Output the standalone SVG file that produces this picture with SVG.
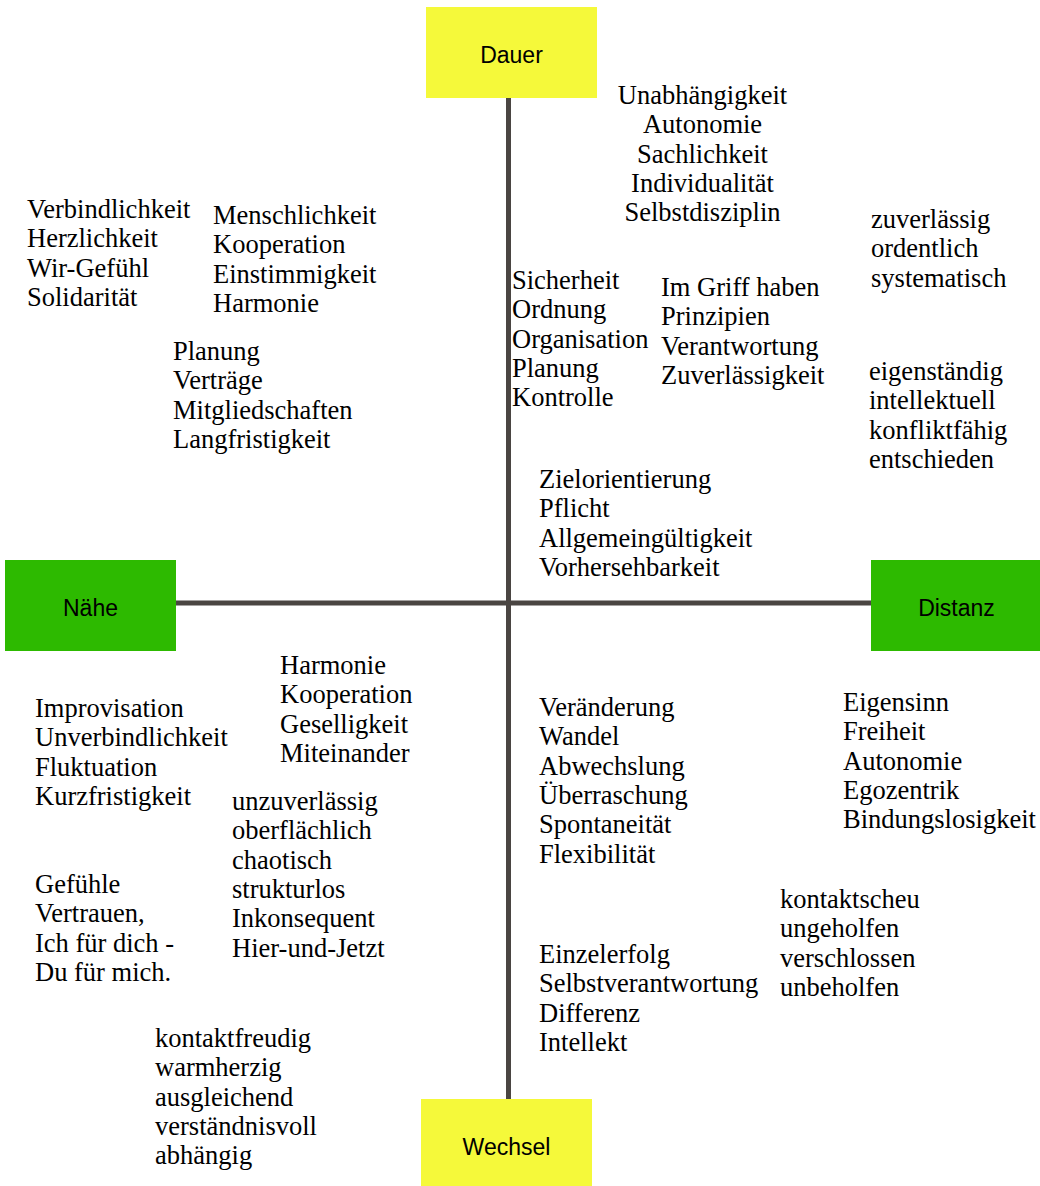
<svg xmlns="http://www.w3.org/2000/svg" width="1040" height="1186" viewBox="0 0 1040 1186">
<style>
.bg{fill:#ffffff}
.axis{stroke:#4a4542;stroke-width:5;fill:none}
.yel{fill:#f5f93a}
.grn{fill:#2dba00}
.lbl{font-family:"Liberation Sans",Arial,Helvetica,sans-serif;font-size:23px;fill:#000;text-anchor:middle}
.t{font-family:"Liberation Serif","Times New Roman",Times,serif;font-size:26.5px;fill:#000}
.c{text-anchor:middle}
</style>
<rect class="bg" x="0" y="0" width="1040" height="1186"/>
<g id="connectors">
<line class="axis" x1="508.5" y1="98" x2="508.5" y2="1099"/>
<line class="axis" x1="176" y1="603" x2="871" y2="603"/>
</g>
<g id="node-dauer"><rect class="yel" x="426" y="7" width="171" height="91"/><text class="lbl" x="511.5" y="63">Dauer</text></g>
<g id="node-wechsel"><rect class="yel" x="421" y="1099" width="171" height="91"/><text class="lbl" x="506.5" y="1155">Wechsel</text></g>
<g id="node-naehe"><rect class="grn" x="5" y="560" width="171" height="91"/><text class="lbl" x="90.5" y="616">Nähe</text></g>
<g id="node-distanz"><rect class="grn" x="871" y="560" width="171" height="91"/><text class="lbl" x="956.5" y="616">Distanz</text></g>

<g id="txt-unabhaengigkeit" class="t c">
<text x="702.5" y="104">Unabhängigkeit</text>
<text x="702.5" y="133.3">Autonomie</text>
<text x="702.5" y="162.6">Sachlichkeit</text>
<text x="702.5" y="191.9">Individualität</text>
<text x="702.5" y="221.2">Selbstdisziplin</text>
</g>
<g id="txt-verbindlichkeit" class="t">
<text x="27" y="218">Verbindlichkeit</text>
<text x="27" y="247.3">Herzlichkeit</text>
<text x="27" y="276.6">Wir-Gefühl</text>
<text x="27" y="305.9">Solidarität</text>
</g>
<g id="txt-menschlichkeit" class="t">
<text x="213" y="224">Menschlichkeit</text>
<text x="213" y="253.3">Kooperation</text>
<text x="213" y="282.6">Einstimmigkeit</text>
<text x="213" y="311.9">Harmonie</text>
</g>
<g id="txt-planung" class="t">
<text x="173" y="360">Planung</text>
<text x="173" y="389.3">Verträge</text>
<text x="173" y="418.6">Mitgliedschaften</text>
<text x="173" y="447.9">Langfristigkeit</text>
</g>
<g id="txt-zuverlaessig" class="t">
<text x="871" y="228">zuverlässig</text>
<text x="871" y="257.3">ordentlich</text>
<text x="871" y="286.6">systematisch</text>
</g>
<g id="txt-sicherheit" class="t">
<text x="512" y="289">Sicherheit</text>
<text x="512" y="318.3">Ordnung</text>
<text x="512" y="347.6">Organisation</text>
<text x="512" y="376.9">Planung</text>
<text x="512" y="406.2">Kontrolle</text>
</g>
<g id="txt-imgriff" class="t">
<text x="661" y="296">Im Griff haben</text>
<text x="661" y="325.3">Prinzipien</text>
<text x="661" y="354.6">Verantwortung</text>
<text x="661" y="383.9">Zuverlässigkeit</text>
</g>
<g id="txt-eigenstaendig" class="t">
<text x="869" y="380">eigenständig</text>
<text x="869" y="409.3">intellektuell</text>
<text x="869" y="438.6">konfliktfähig</text>
<text x="869" y="467.9">entschieden</text>
</g>
<g id="txt-zielorientierung" class="t">
<text x="539" y="488">Zielorientierung</text>
<text x="539" y="517.3">Pflicht</text>
<text x="539" y="546.6">Allgemeingültigkeit</text>
<text x="539" y="575.9">Vorhersehbarkeit</text>
</g>
<g id="txt-harmonie" class="t">
<text x="280" y="674">Harmonie</text>
<text x="280" y="703.3">Kooperation</text>
<text x="280" y="732.6">Geselligkeit</text>
<text x="280" y="761.9">Miteinander</text>
</g>
<g id="txt-improvisation" class="t">
<text x="35" y="717">Improvisation</text>
<text x="35" y="746.3">Unverbindlichkeit</text>
<text x="35" y="775.6">Fluktuation</text>
<text x="35" y="804.9">Kurzfristigkeit</text>
</g>
<g id="txt-unzuverlaessig" class="t">
<text x="232" y="810">unzuverlässig</text>
<text x="232" y="839.3">oberflächlich</text>
<text x="232" y="868.6">chaotisch</text>
<text x="232" y="897.9">strukturlos</text>
<text x="232" y="927.2">Inkonsequent</text>
<text x="232" y="956.5">Hier-und-Jetzt</text>
</g>
<g id="txt-gefuehle" class="t">
<text x="35" y="893">Gefühle</text>
<text x="35" y="922.3">Vertrauen,</text>
<text x="35" y="951.6">Ich für dich -</text>
<text x="35" y="980.9">Du für mich.</text>
</g>
<g id="txt-kontaktfreudig" class="t">
<text x="155" y="1047">kontaktfreudig</text>
<text x="155" y="1076.3">warmherzig</text>
<text x="155" y="1105.6">ausgleichend</text>
<text x="155" y="1134.9">verständnisvoll</text>
<text x="155" y="1164.2">abhängig</text>
</g>
<g id="txt-veraenderung" class="t">
<text x="539" y="716">Veränderung</text>
<text x="539" y="745.3">Wandel</text>
<text x="539" y="774.6">Abwechslung</text>
<text x="539" y="803.9">Überraschung</text>
<text x="539" y="833.2">Spontaneität</text>
<text x="539" y="862.5">Flexibilität</text>
</g>
<g id="txt-eigensinn" class="t">
<text x="843" y="711">Eigensinn</text>
<text x="843" y="740.3">Freiheit</text>
<text x="843" y="769.6">Autonomie</text>
<text x="843" y="798.9">Egozentrik</text>
<text x="843" y="828.2">Bindungslosigkeit</text>
</g>
<g id="txt-kontaktscheu" class="t">
<text x="780" y="908">kontaktscheu</text>
<text x="780" y="937.3">ungeholfen</text>
<text x="780" y="966.6">verschlossen</text>
<text x="780" y="995.9">unbeholfen</text>
</g>
<g id="txt-einzelerfolg" class="t">
<text x="539" y="963">Einzelerfolg</text>
<text x="539" y="992.3">Selbstverantwortung</text>
<text x="539" y="1021.6">Differenz</text>
<text x="539" y="1050.9">Intellekt</text>
</g>
</svg>
